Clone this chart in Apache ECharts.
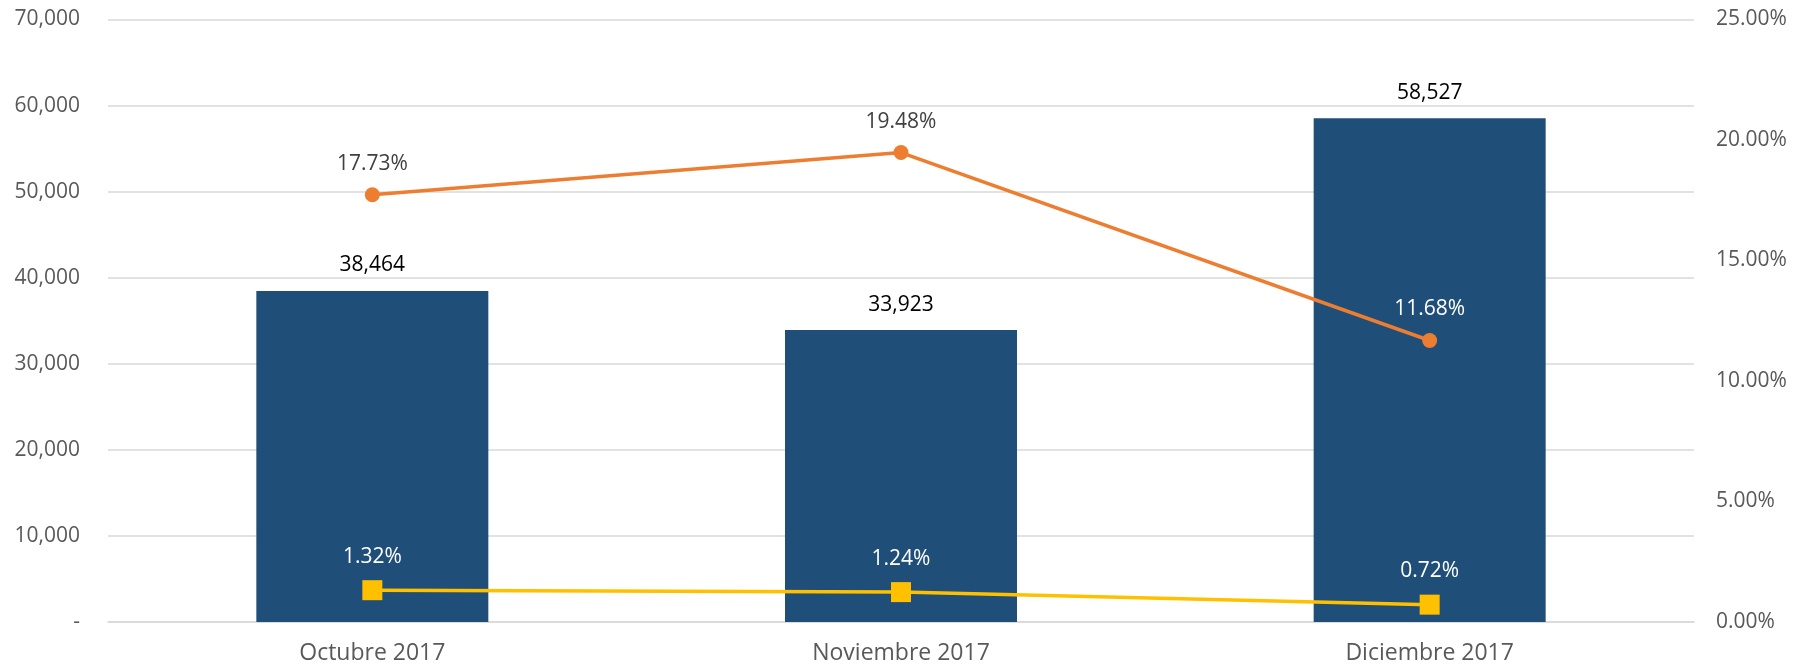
<!DOCTYPE html>
<html><head><meta charset="utf-8">
<script src="https://cdn.jsdelivr.net/npm/echarts@6/dist/echarts.min.js"></script>
<style>html,body{margin:0;padding:0;background:#fff}#c{width:1795px;height:666px}</style>
</head><body><div id="c"></div>
<script>
const categories = ["Octubre 2017", "Noviembre 2017", "Diciembre 2017"];
const barValues = [38464, 33923, 58527];
const orangeValues = [17.73, 19.48, 11.68];
const yellowValues = [1.32, 1.24, 0.72];
const orangeLabelColors = ["#404040", "#404040", "#FFFFFF"];

const FONT = "'Open Sans', 'Liberation Sans', sans-serif";
const chart = echarts.init(document.getElementById('c'));
chart.setOption({
  animation: false,
  grid: { left: 108, right: 101, top: 19.5, bottom: 44, containLabel: false },
  xAxis: {
    type: 'category', data: categories,
    axisLine: { lineStyle: { color: '#D9D9D9', width: 1.5 } },
    axisTick: { show: false },
    axisLabel: { color: '#595959', fontSize: 23, fontFamily: FONT, margin: 20 }
  },
  yAxis: [{
    type: 'value', min: 0, max: 70000, interval: 10000,
    axisLine: { show: false }, axisTick: { show: false },
    splitLine: { lineStyle: { color: '#D9D9D9', width: 1.5 } },
    axisLabel: { color: '#595959', fontSize: 21, fontFamily: FONT, margin: 28,
      formatter: v => v === 0 ? '-' : v.toLocaleString('en-US') }
  }, {
    type: 'value', min: 0, max: 25, interval: 5,
    axisLine: { show: false }, axisTick: { show: false }, splitLine: { show: false },
    axisLabel: { color: '#595959', fontSize: 21, fontFamily: FONT, margin: 22,
      formatter: v => v.toFixed(2) + '%' }
  }],
  series: [{
    type: 'bar', data: barValues, barWidth: 232,
    itemStyle: { color: '#1F4E79' },
    label: { show: true, position: 'top', color: '#000', fontSize: 21, fontFamily: FONT, distance: 15,
      formatter: p => p.value.toLocaleString('en-US') }
  }, {
    type: 'line', yAxisIndex: 1,
    data: orangeValues.map((v, i) => ({ value: v, label: { color: orangeLabelColors[i] } })),
    symbol: 'circle', symbolSize: 15,
    lineStyle: { color: '#ED7D31', width: 3.5 },
    itemStyle: { color: '#ED7D31' },
    label: { show: true, position: 'top', fontSize: 21, fontFamily: FONT, distance: 13,
      formatter: p => p.value.toFixed(2) + '%' }
  }, {
    type: 'line', yAxisIndex: 1, data: yellowValues,
    symbol: 'rect', symbolSize: 20,
    lineStyle: { color: '#FFC000', width: 3.5 },
    itemStyle: { color: '#FFC000' },
    label: { show: true, position: 'top', color: '#FFFFFF', fontSize: 21, fontFamily: FONT, distance: 13,
      formatter: p => p.value.toFixed(2) + '%' }
  }]
});
</script></body></html>
